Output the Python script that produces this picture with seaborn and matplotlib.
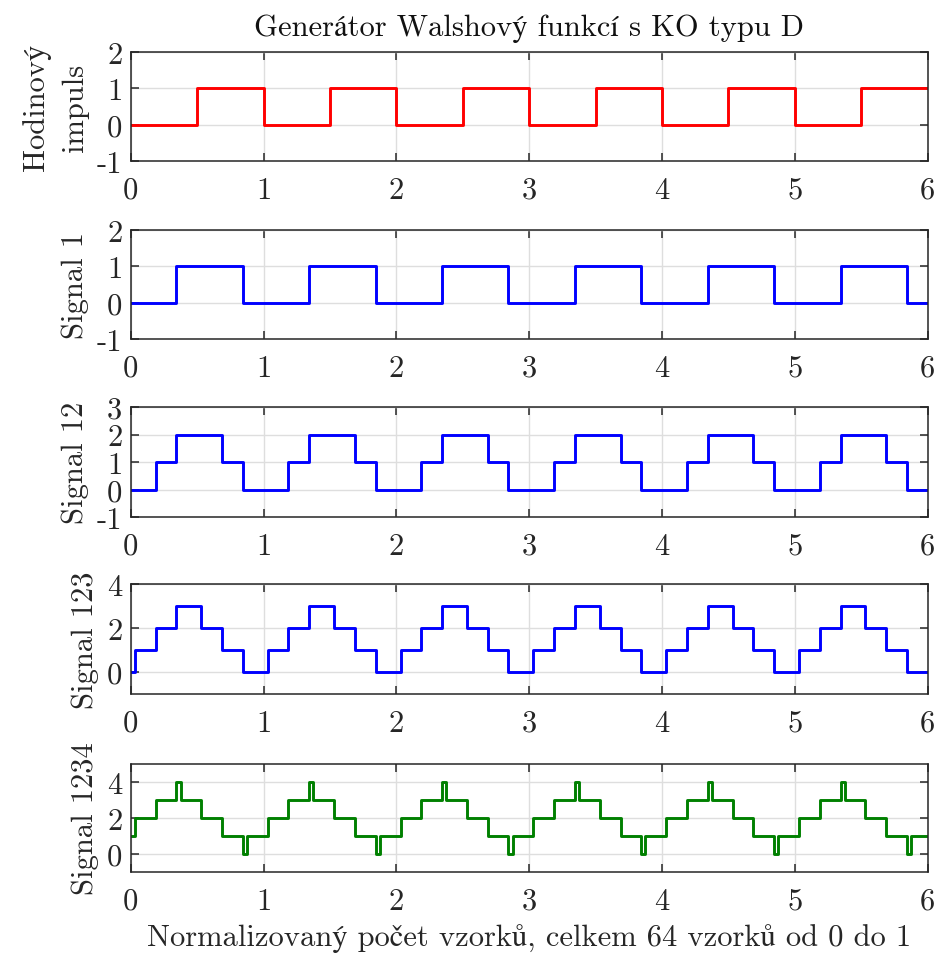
import numpy as np
import pandas as pd
import matplotlib
matplotlib.use('Agg')
import matplotlib.pyplot as plt
import seaborn as sns

# one period = 64 samples, the pattern repeats 6 times on the axis
n_per = 64
n_periods = 6

# edges of the steps inside one period (in samples) and the level after each edge
clock_edges = [0, 32]
clock_levels = [0, 1]
s1_edges = [0, 22, 54]
s1_levels = [0, 1, 0]
s12_edges = [0, 12, 22, 44, 54]
s12_levels = [0, 1, 2, 1, 0]
s123_edges = [0, 2, 12, 22, 34, 44, 54]
s123_levels = [0, 1, 2, 3, 2, 1, 0]
s1234_edges = [0, 2, 12, 22, 24, 34, 44, 54, 56]
s1234_levels = [1, 2, 3, 4, 3, 2, 1, 0, 1]

ylabels = ['Hodinový\nimpuls', 'Signal 1', 'Signal 12', 'Signal 123', 'Signal 1234']
colors = ['#ff0000', '#0000ff', '#0000ff', '#0000ff', '#008000']
ylims = [(-1, 2), (-1, 2), (-1, 3), (-1, 4), (-1, 5)]
yticks = [[-1, 0, 1, 2], [-1, 0, 1, 2], [-1, 0, 1, 2, 3], [0, 2, 4], [0, 2, 4]]
xticks = [0, 1, 2, 3, 4, 5, 6]
title = 'Generátor Walshový funkcí s KO typu D'
xlabel = 'Normalizovaný počet vzorků, celkem 64 vzorků od 0 do 1'


def build(edges, levels):
    t = []
    v = []
    for k in range(n_periods):
        t += [(e + k * n_per) / n_per for e in edges]
        v += levels
    t.append(n_periods)
    v.append(levels[-1])
    return pd.DataFrame({'t': t, 'v': v})


signals = [build(clock_edges, clock_levels), build(s1_edges, s1_levels),
           build(s12_edges, s12_levels), build(s123_edges, s123_levels),
           build(s1234_edges, s1234_levels)]

sns.set_theme(style='ticks')
plt.rcParams['font.family'] = ['cmr10', 'STIXGeneral']
plt.rcParams['axes.unicode_minus'] = False
plt.rcParams['mathtext.fontset'] = 'cm'

fs = 22
W, H = 940, 962
fig = plt.figure(figsize=(W / 100, H / 100), dpi=100)

boxes = [(53, 162), (231, 340), (408, 518), (585, 695), (765, 873)]
left, right = 130.7, 927.7
axes = []
for i, (top, bot) in enumerate(boxes):
    ax = fig.add_axes([left / W, 1 - bot / H, (right - left) / W, (bot - top) / H])
    df = signals[i]
    sns.lineplot(data=df, x='t', y='v', ax=ax, color=colors[i], linewidth=2.1,
                 drawstyle='steps-post', estimator=None, sort=False)
    ax.set_xlim(0, 6)
    ax.set_ylim(*ylims[i])
    ax.set_xticks(xticks)
    ax.set_yticks(yticks[i])
    ax.set_xlabel('')
    ax.set_ylabel(ylabels[i], fontsize=fs, color='#262626', labelpad=6,
                  linespacing=1.45)
    ax.grid(True, color='#dedede', linewidth=1)
    ax.set_axisbelow(True)
    for s in ax.spines.values():
        s.set_visible(True)
        s.set_color('#262626')
        s.set_linewidth(1.1)
    ax.tick_params(direction='in', top=True, right=True, length=6, width=1.1,
                   color='#262626', labelsize=fs, labelcolor='#262626')
    ax.tick_params(axis='x', pad=11)
    ax.tick_params(axis='y', pad=6)
    axes.append(ax)

axes[0].set_title(title, fontsize=fs, color='#111111', pad=12)
axes[-1].set_xlabel(xlabel, fontsize=fs, color='#262626', labelpad=6)

fig.savefig('out.png', dpi=100)
